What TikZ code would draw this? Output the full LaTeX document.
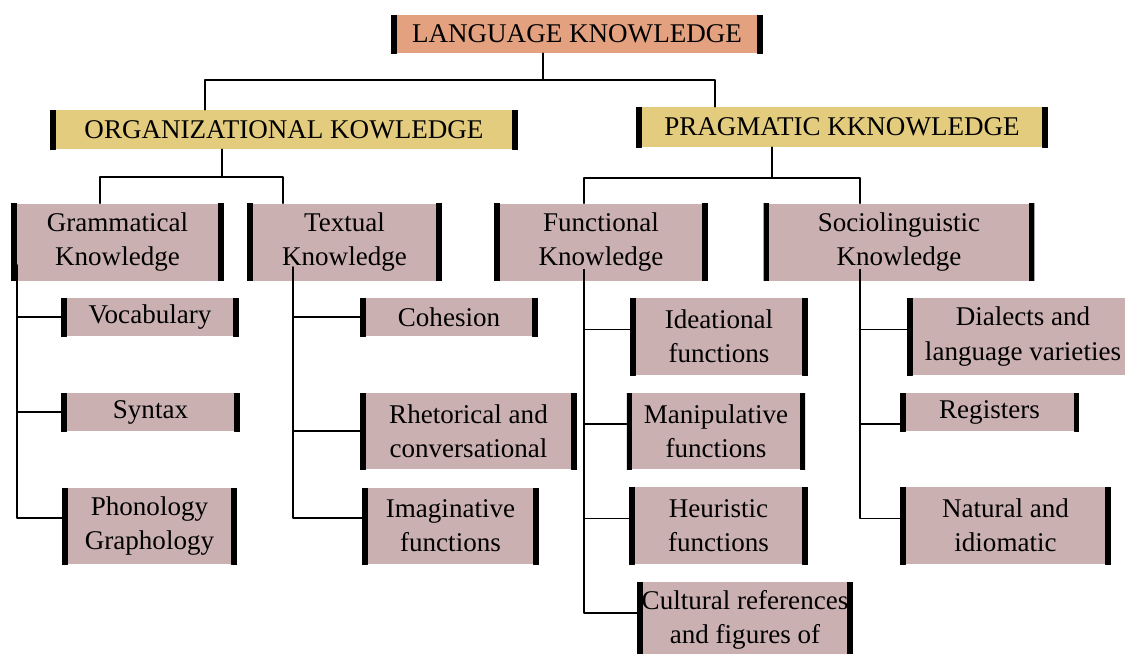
\documentclass[tikz,border=0pt]{standalone}
\usepackage{fontspec}
\setmainfont{Liberation Serif}
\usetikzlibrary{calc}
\definecolor{langfill}{RGB}{227,161,128}
\definecolor{kfill}{RGB}{228,204,126}
\definecolor{subfill}{RGB}{203,176,178}
\begin{document}
\begin{tikzpicture}[x=0.02cm, y=-0.02cm, font=\fontsize{15.4}{19.4}\selectfont, line join=round, line cap=round,
	kbox/.style={fill=#1, inner sep=0pt, align=center,
		path picture={\draw[line width=0.22cm] (path picture bounding box.north west)--(path picture bounding box.south west)
			(path picture bounding box.north east)--(path picture bounding box.south east);}},
	link/.style={line width=1.1pt}]
	\useasboundingbox (0,0) rectangle (1125,653);
	\clip (0,0) rectangle (1125,653);
	% boxes
	\node[kbox=langfill, minimum width=7.44cm, minimum height=0.76cm] (lang) at (577,34) {LANGUAGE KNOWLEDGE};
	\node[kbox=kfill, minimum width=9.36cm, minimum height=0.78cm] (org) at (284,129.5) {ORGANIZATIONAL KOWLEDGE};
	\node[kbox=kfill, minimum width=8.24cm, minimum height=0.8cm] (prag) at (842,127) {PRAGMATIC KKNOWLEDGE};
	\node[kbox=subfill, minimum width=4.26cm, minimum height=1.54cm] (gram) at (117.5,242) {Grammatical\\Knowledge};
	\node[kbox=subfill, minimum width=3.9cm, minimum height=1.54cm] (textual) at (344.5,242) {Textual\\Knowledge};
	\node[kbox=subfill, minimum width=4.28cm, minimum height=1.54cm] (func) at (601,242) {Functional\\Knowledge};
	\node[kbox=subfill, minimum width=5.42cm, minimum height=1.54cm] (socio) at (899,242) {Sociolinguistic\\Knowledge};
	\node[kbox=subfill, minimum width=3.56cm, minimum height=0.76cm] (voc) at (150,317) {Vocabulary};
	\node[kbox=subfill, minimum width=3.58cm, minimum height=0.76cm] (syn) at (150.5,412) {Syntax};
	\node[kbox=subfill, minimum width=3.5cm, minimum height=1.52cm] (pho) at (149.5,526) {Phonology\\Graphology};
	\node[kbox=subfill, minimum width=3.56cm, minimum height=0.76cm] (coh) at (449,317) {Cohesion};
	\node[kbox=subfill, minimum width=4.34cm, minimum height=1.52cm] (rhet) at (468.5,431) {Rhetorical and\\conversational};
	\node[kbox=subfill, minimum width=3.54cm, minimum height=1.52cm] (imag) at (450.5,526) {Imaginative\\functions};
	\node[kbox=subfill, minimum width=3.56cm, minimum height=1.54cm] (idea) at (719,336.5) {Ideational\\functions};
	\node[kbox=subfill, minimum width=3.57cm, minimum height=1.52cm] (mani) at (716,431) {Manipulative\\functions};
	\node[kbox=subfill, minimum width=3.58cm, minimum height=1.54cm] (heur) at (718.5,525.5) {Heuristic\\functions};
	\node[kbox=subfill, minimum width=4.32cm, minimum height=1.52cm] (cult) at (745,620) {Cultural references\\and figures of};
	\node[kbox=subfill, minimum width=4.64cm, minimum height=1.54cm] (dial) at (1023,336.5) {Dialects and\\language varieties};
	\node[kbox=subfill, minimum width=3.58cm, minimum height=0.76cm] (reg) at (989.5,412) {Registers};
	\node[kbox=subfill, minimum width=4.22cm, minimum height=1.54cm] (nat) at (1005.5,525.5) {Natural and\\idiomatic};
	% top level
	\coordinate (j0) at (543,80);
	\coordinate (jo) at (205,80);
	\coordinate (jp) at (715,80);
	\draw[link] (j0 |- lang.south) -- (j0);
	\draw[link] (jo |- org.north) -- (jo) -- (jp) -- (jp |- prag.north);
	% organizational
	\coordinate (j1) at (222,177);
	\coordinate (jg) at (100,177);
	\coordinate (jt) at (283,177);
	\draw[link] (j1 |- org.south) -- (j1);
	\draw[link] (jg |- gram.north) -- (jg) -- (jt) -- (jt |- textual.north);
	% pragmatic
	\coordinate (j2) at (772,178);
	\coordinate (jf) at (584,178);
	\coordinate (js) at (860,178);
	\draw[link] (j2 |- prag.south) -- (j2);
	\draw[link] (jf |- func.north) -- (jf) -- (js) -- (js |- socio.north);
	% grammatical
	\coordinate (tg) at (17,265);
	\draw[link] (tg) |- ($(pho.west)+(0,-8)$);
	\draw[link] (tg |- voc.west) -- (voc.west);
	\draw[link] (tg |- syn.west) -- (syn.west);
	% textual
	\coordinate (tt) at (293,267);
	\draw[link] (tt) |- ($(imag.west)+(0,-8)$);
	\draw[link] (tt |- coh.west) -- (coh.west);
	\draw[link] (tt |- rhet.west) -- (rhet.west);
	% functional
	\coordinate (tf) at (584,270);
	\draw[link] (tf) |- ($(cult.west)+(0,-7)$);
	\draw[link] (tf) |- ($(idea.west)+(0,-7)$);
	\draw[link] (tf) |- ($(mani.west)+(0,-7)$);
	\draw[link] (tf) |- ($(heur.west)+(0,-7)$);
	% sociolinguistic
	\coordinate (ts) at (860,270);
	\draw[link] (ts) |- ($(nat.west)+(0,-7)$);
	\draw[link] (ts) |- ($(dial.west)+(0,-7)$);
	\draw[link] (ts) |- ($(reg.west)+(0,12)$);
\end{tikzpicture}
\end{document}
